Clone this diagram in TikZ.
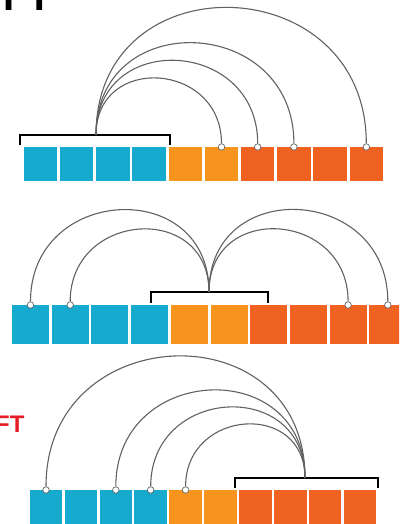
\documentclass[tikz,border=0pt]{standalone}
\usepackage{fontspec}
\usepackage{xcolor}
\usepackage{tikz}
\newfontfamily\headfont{Liberation Sans}

\definecolor{cellblue}{RGB}{22,170,206}
\definecolor{cellorange}{RGB}{247,148,30}
\definecolor{cellred}{RGB}{240,98,34}
\definecolor{tagred}{RGB}{228,30,38}

\tikzset{
  cell/.style 2 args={inner sep=0pt, outer sep=0pt, minimum width=#1, minimum height=#2},
  port/.style={circle, draw=black!60, fill=white, inner sep=0pt, minimum size=6.5pt, line width=0.7pt},
  hop/.style={draw=black!62, line width=1.1pt},
  bracket/.style={draw=black, line width=2.6pt, line cap=rect}
}

\begin{document}
\begin{tikzpicture}[x=1pt, y=-1pt]
  \useasboundingbox (0,0) rectangle (399,524);
  \clip (0,0) rectangle (399,524);

  % Cut-off titles
  \node[anchor=base west, inner sep=0pt, font=\headfont\bfseries\fontsize{40}{40}\selectfont]
    (titletop) at (3,11) {FT};
  \node[anchor=base west, inner sep=0pt, text=tagred, font=\headfont\bfseries\fontsize{24}{24}\selectfont]
    (titlebot) at (-5,432) {FT};

  % Top row: one block sends to four cells on the right
  \foreach \i/\c in {1/cellblue,2/cellblue,3/cellblue,4/cellblue,5/cellorange,
                     6/cellorange,7/cellred,8/cellred,9/cellred,10/cellred}
    \node[cell={33.5}{34}, fill=\c] (t\i) at ({40.5+(\i-1)*36.2},164) {};
  \foreach \i in {6,7,8,10}
    \node[port] (tp\i) at (t\i.north) {};
  \coordinate (ta) at (96,135);
  \coordinate (tl) at (20,144);
  \coordinate (tr) at (170,144);
  \draw[bracket] (tl) |- (ta) -| (tr);
  \foreach \i in {6,7,8,10}
    \draw[hop] (ta) to[out=90, in=90, looseness=1.66] (tp\i);

  % Middle row: block in the middle sends both ways
  \foreach \i/\c in {1/cellblue,2/cellblue,3/cellblue,4/cellblue,5/cellorange,
                     6/cellorange,7/cellred,8/cellred,9/cellred,10/cellred}
    \node[cell={37}{39}, fill=\c] (m\i) at ({30.5+(\i-1)*39.7},324.5) {};
  \foreach \i in {1,2,9,10}
    \node[port] (mp\i) at (m\i.north) {};
  \coordinate (ma) at (209,292);
  \coordinate (ml) at (151,302);
  \coordinate (mr) at (268,302);
  \draw[bracket] (ml) |- (ma) -| (mr);
  \foreach \i in {1,2,9,10}
    \draw[hop] (ma) to[out=90, in=90, looseness=1.66] (mp\i);

  % Bottom row: block on the right sends to the left
  \foreach \i/\c in {1/cellblue,2/cellblue,3/cellblue,4/cellblue,5/cellorange,
                     6/cellorange,7/cellred,8/cellred,9/cellred,10/cellred}
    \node[cell={32.5}{36}, fill=\c] (b\i) at ({46+(\i-1)*34.9},508) {};
  \foreach \i in {1,3,4,5}
    \node[port] (bp\i) at (b\i.north) {};
  \coordinate (ba) at (305,478);
  \coordinate (bl) at (235,487);
  \coordinate (br) at (378,487);
  \draw[bracket] (bl) |- (ba) -| (br);
  \foreach \i in {1,3,4,5}
    \draw[hop] (ba) to[out=90, in=90, looseness=1.66] (bp\i);
\end{tikzpicture}
\end{document}
